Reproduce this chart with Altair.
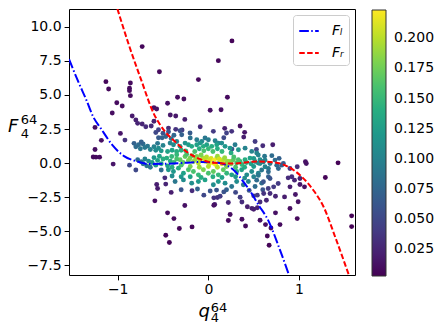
import altair as alt
import pandas as pd

# ---- scatter points: q (x), F (y), colour value (density) ----
q_vals = [
    # outer, top
    -0.73, 0.26, 0.11, -0.54, -1.13, -1.10, -0.86, -0.87, -0.87, -0.86, -0.11, 0.21, -0.34, -0.27,
    -0.45, -1.01, -0.95, -0.60, -0.57, 0.02, 0.14, -1.06, -0.84, -0.42, -0.36, -0.26, -0.80,
    # upper ring
    -0.78, -0.73, -0.69, -0.63, -0.60, -1.25, -1.18, -0.97, -0.92, -0.44, -0.36, -0.29, -0.09,
    0.055, 0.18, 0.20, 0.257, 0.35, 0.40, 0.39, 0.17, 0.26, 0.53, 0.60, 0.71, 0.515, -0.58, -0.55,
    -0.51, -0.55, -0.50, -0.47, -0.44, -0.41, -0.38, -0.312, -0.294, -0.202, -0.128, -0.073, -0.037,
    0.0, 0.074, 0.11, -0.20,
    # band 1.0 - 1.6
    -0.422, -0.385, -0.349, -0.312, -0.257, -0.220, -0.184, -0.128, -0.092, -0.055, -0.018, 0.037,
    0.092, 0.147, 0.184, 0.239, 0.294, 0.331, 0.405, 0.478, 0.533,
    # left mid ring
    -0.82, -0.80, -0.77, -0.75, -0.72, -0.70, -0.74, -0.67, -0.64, -0.60, -0.58, -0.55, -0.52, -0.50, -0.56,
    # left near zero
    -1.25, -1.27, -1.24, -1.20, -1.05, -0.87, -0.80, -0.78, -0.74, -0.72, -0.70, -0.68, -0.66, -0.64,
    -0.62, -0.60, -0.58, -0.56, -0.54, -0.52, -0.50, -0.52, -0.48,
    # upper mid
    -0.45, -0.40, -0.35, -0.30, -0.25, -0.15, -0.05, 0.05, 0.15, 0.25, -0.10, 0.00, 0.10,
    # core
    -0.459, -0.404, -0.349, -0.312, -0.257, -0.202, -0.165, -0.128, -0.092, -0.055, -0.018, 0.019,
    0.055, 0.092, 0.129, 0.165, 0.202, 0.239, 0.276, 0.312, 0.349, 0.404, 0.459, 0.515, 0.570,
    -0.42, -0.38, -0.35, -0.28, -0.24, -0.22, -0.18, -0.14, -0.11, -0.08, -0.04, -0.02, 0.01, 0.03,
    0.06, 0.08, 0.10, 0.12, 0.15, 0.18, 0.21, 0.25, 0.28, 0.33, 0.37, 0.42, 0.47, 0.50, 0.55, 0.60,
    # just below core
    -0.45, -0.40, -0.30, -0.20, -0.10, 0.00, 0.10, 0.20, 0.30, 0.40, 0.50,
    # lower band
    -0.441, -0.385, -0.330, -0.275, -0.220, -0.165, -0.110, -0.055, 0.000, 0.055, 0.110, 0.165,
    0.202, 0.257, 0.312, 0.367, 0.423, 0.478, 0.551, -0.40, -0.30, -0.20, -0.08, 0.05, 0.15, 0.30,
    0.40, 0.50,
    # lower -1.2 .. -1.7
    -0.367, -0.275, -0.184, -0.110, -0.037, 0.055, 0.110, 0.184, 0.257, 0.312, 0.386, 0.441, 0.515, 0.588,
    # lower -1.8 .. -3
    -0.30, -0.12, 0.02, 0.20, 0.30, 0.45, 0.50, 0.35, -0.05, 0.60, 0.09, 0.17, 0.06, 0.10, 0.13, 0.07,
    0.22, 0.37, 0.57, 0.54,
    # left lower outer
    -0.57, -0.56, -0.47, -0.59, -0.41, -0.26, -0.18, -0.45, -0.38, -0.32, -0.18, -0.47, -0.43,
    # lower middle / right outer
    0.06, 0.24, 0.22, 0.37, 0.41, 0.43, 0.48, 0.50, 0.54, 0.57, 0.63, 0.69, 0.74, 0.79, 0.90, 0.98,
    0.65, 0.67, 1.58, 1.58,
    # right outer
    0.61, 0.68, 0.66, 0.72, 0.77, 0.84, 0.74, 0.96, 0.99, 0.64, 0.90, 1.01, 1.06, 0.88, 0.92, 0.95,
    1.01, 1.29, 0.90, 0.98, 1.07, 1.08, 1.43,
    # right teal
    0.57, 0.607, 0.625, 0.68, 0.662, 0.662, 0.625, 0.735, 0.754, 0.772, 0.809, 0.827, 0.588, 0.551,
    0.662, 0.607, 0.68, 0.533, 0.70, 0.78, 0.62, 0.55,
]
f_vals = [
    8.55, 8.97, 7.52, 6.71, 5.98, 5.44, 5.88, 5.49, 5.32, 4.95, 6.13, 4.83, 4.83, 4.71,
    4.39, 4.43, 4.19, 4.07, 3.97, 3.88, 3.92, 3.68, 3.46, 3.53, 3.46, 3.21, 3.16,
    2.92, 2.87, 2.67, 2.72, 3.07, 2.62, 1.67, 2.18, 1.69, 2.57, 2.48, 2.43, 2.67,
    2.33, 2.55, 2.21, 2.33, 2.72, 2.26, 1.91, 1.86, 1.03, 1.00, 1.27, 1.35, 1.59, 2.25, 1.86,
    1.86, 2.45, 2.20, 1.95, 2.30, 1.80, 2.05, 2.38, 2.08, 2.21, 1.72, 1.59, 1.84,
    1.72, 1.64, 1.47, 1.85,
    1.47, 1.35, 1.59, 1.23, 1.47, 1.35, 1.23, 1.35, 1.47, 1.23, 1.35, 1.23,
    1.35, 1.47, 1.23, 1.10, 1.35, 0.98, 1.10, 0.86, 0.74,
    1.45, 1.20, 1.35, 1.05, 1.40, 1.15, 1.55, 1.25, 1.00, 1.20, 0.95, 1.10, 0.90, 1.30, 1.45,
    1.00, 0.45, 0.44, 0.44, -0.07, -0.15, -0.51, 0.25, 0.10, -0.05, 0.30, -0.20, 0.15, -0.30,
    0.05, 0.40, -0.15, 0.20, 0.50, -0.05, 0.30, -0.51, -1.08,
    0.85, 0.95, 0.85, 0.95, 0.90, 0.85, 0.90, 0.85, 0.85, 0.75, 1.05, 1.05, 1.05,
    0.37, 0.49, 0.61, 0.25, 0.49, 0.37, 0.12, 0.49, 0.25, 0.37, 0.12, 0.25,
    0.00, 0.37, 0.12, 0.25, 0.00, 0.12, 0.25, 0.00, 0.12, 0.25, 0.37, 0.12, 0.25,
    0.15, 0.05, 0.30, 0.05, 0.65, 0.20, 0.55, 0.30, 0.00, 0.60, 0.15, 0.45, -0.05, 0.35,
    0.20, -0.10, 0.50, 0.30, -0.05, 0.40, 0.15, -0.05, 0.45, 0.25, -0.10, 0.05, -0.05, 0.35, 0.00, 0.10,
    -0.20, -0.30, -0.15, -0.25, -0.30, -0.25, -0.30, -0.25, -0.30, -0.30, -0.25,
    -0.49, -0.61, -0.37, -0.74, -0.49, -0.61, -0.86, -0.49, -0.74, -0.61, -0.86, -0.49,
    -0.74, -0.86, -0.61, -0.49, -0.86, -0.61, -0.74, -0.95, -1.00, -1.00, -1.05, -1.00, -1.05, -1.00,
    -1.10, -1.00,
    -1.35, -1.23, -1.47, -1.35, -1.23, -1.59, -1.35, -1.47, -1.72, -1.35, -1.59, -1.35, -1.72, -1.47,
    -1.95, -1.90, -2.05, -1.95, -2.15, -2.00, -2.40, -2.50, -2.35, -1.95, -1.98, -2.11, -2.55, -2.52, -2.43, -3.04,
    -2.89, -2.85, -2.85, -2.35,
    -1.57, -1.86, -1.54, -2.77, -2.15, -3.11, -2.03, -3.65, -4.07, -4.80, -4.68, -5.29, -5.83,
    -3.09, -3.77, -4.21, -4.12, -4.61, -3.20, -3.32, -3.38, -3.28, -4.19, -4.51, -4.76, -3.65, -4.51, -3.33, -4.07,
    -5.35, -6.03, -3.87, -4.66,
    -2.23, -2.23, -1.86, -1.74, -1.49, -2.48, -2.43, -2.30, -2.84, -2.72, -1.74, -1.57, -1.74, -1.08, -1.00, -1.25,
    -1.13, -1.05, -0.39, -0.27, 0.10, -0.03, 0.02,
    -0.03, 0.10, 0.22, -0.03, -0.39, -0.64, -0.27, 0.22, -0.15, -0.39, -0.15, -0.03, -0.51, -0.90,
    -1.00, -1.37, -1.13, -1.25, 0.55, 0.35, 0.50, 0.60,
]
dens_vals = [
    0.006, 0.005, 0.006, 0.007, 0.006, 0.007, 0.008, 0.008, 0.008, 0.009, 0.007, 0.008, 0.010, 0.010,
    0.012, 0.009, 0.010, 0.012, 0.013, 0.012, 0.011, 0.010, 0.018, 0.016, 0.016, 0.020, 0.022,
    0.025, 0.025, 0.030, 0.028, 0.022, 0.010, 0.012, 0.015, 0.035, 0.030, 0.035, 0.040, 0.030,
    0.040, 0.020, 0.045, 0.035, 0.012, 0.015, 0.020, 0.050, 0.060, 0.045, 0.030, 0.020, 0.040, 0.050, 0.065,
    0.070, 0.045, 0.060, 0.075, 0.060, 0.085, 0.075, 0.055, 0.070, 0.065, 0.095, 0.105, 0.090,
    0.095, 0.100, 0.105, 0.085,
    0.100, 0.110, 0.100, 0.125, 0.115, 0.125, 0.135, 0.130, 0.120, 0.140, 0.130, 0.140,
    0.130, 0.110, 0.120, 0.120, 0.095, 0.120, 0.100, 0.100, 0.100,
    0.070, 0.080, 0.080, 0.090, 0.080, 0.090, 0.070, 0.090, 0.100, 0.100, 0.110, 0.110, 0.120, 0.100, 0.090,
    0.010, 0.008, 0.008, 0.009, 0.015, 0.050, 0.050, 0.080, 0.090, 0.090, 0.100, 0.090, 0.110, 0.090,
    0.120, 0.120, 0.120, 0.130, 0.130, 0.140, 0.140, 0.080, 0.030,
    0.130, 0.130, 0.140, 0.140, 0.150, 0.160, 0.160, 0.160, 0.150, 0.140, 0.140, 0.150, 0.140,
    0.140, 0.150, 0.150, 0.170, 0.170, 0.180, 0.190, 0.180, 0.200, 0.200, 0.210, 0.210,
    0.220, 0.210, 0.215, 0.200, 0.195, 0.185, 0.170, 0.160, 0.150, 0.140, 0.130, 0.120, 0.110,
    0.140, 0.150, 0.160, 0.170, 0.160, 0.180, 0.170, 0.190, 0.200, 0.180, 0.210, 0.200, 0.220, 0.210,
    0.222, 0.220, 0.190, 0.210, 0.210, 0.190, 0.190, 0.180, 0.160, 0.160, 0.150, 0.140, 0.130, 0.120, 0.110, 0.100,
    0.130, 0.140, 0.160, 0.180, 0.190, 0.200, 0.200, 0.180, 0.160, 0.140, 0.120,
    0.120, 0.120, 0.140, 0.130, 0.160, 0.160, 0.150, 0.180, 0.160, 0.170, 0.150, 0.170,
    0.150, 0.130, 0.140, 0.130, 0.110, 0.110, 0.100, 0.110, 0.120, 0.130, 0.140, 0.140, 0.130, 0.120,
    0.110, 0.100,
    0.090, 0.110, 0.110, 0.120, 0.130, 0.110, 0.120, 0.110, 0.090, 0.110, 0.090, 0.100, 0.080, 0.080,
    0.060, 0.070, 0.060, 0.070, 0.050, 0.060, 0.040, 0.040, 0.050, 0.060, 0.060, 0.060, 0.035, 0.035, 0.040, 0.020,
    0.025, 0.030, 0.030, 0.040,
    0.020, 0.018, 0.025, 0.010, 0.020, 0.012, 0.030, 0.008, 0.008, 0.006, 0.006, 0.005, 0.005,
    0.012, 0.010, 0.009, 0.010, 0.008, 0.020, 0.020, 0.020, 0.022, 0.012, 0.010, 0.008, 0.012, 0.008, 0.010, 0.007,
    0.006, 0.005, 0.004, 0.004,
    0.035, 0.030, 0.040, 0.040, 0.040, 0.020, 0.025, 0.015, 0.012, 0.025, 0.020, 0.015, 0.012, 0.030, 0.030, 0.025,
    0.020, 0.005, 0.040, 0.030, 0.012, 0.012, 0.004,
    0.110, 0.100, 0.100, 0.090, 0.090, 0.080, 0.100, 0.080, 0.080, 0.075, 0.070, 0.065, 0.090, 0.090,
    0.070, 0.060, 0.060, 0.080, 0.080, 0.070, 0.090, 0.100,
]

# ---- fitted curves ----
fl_q = [-1.537, -1.43, -1.35, -1.27, -1.186, -1.058, -0.93, -0.80, -0.654, -0.48, -0.31, -0.09,
        0.07, 0.20, 0.30, 0.39, 0.478, 0.55, 0.66, 0.78, 0.89]
fl_f = [7.63, 5.90, 4.70, 3.40, 2.55, 1.32, 0.51, 0.15, -0.07, -0.05, 0.00, 0.08,
        0.05, -0.15, -0.64, -1.40, -2.23, -3.04, -4.20, -6.20, -8.23]
fr_q = [-1.003, -0.874, -0.745, -0.60, -0.53, -0.47, -0.386, -0.238, -0.09, 0.055, 0.276, 0.53,
        0.735, 0.88, 1.03, 1.158, 1.27, 1.405, 1.551]
fr_f = [11.32, 8.62, 6.18, 3.60, 2.79, 2.25, 1.69, 0.83, 0.29, 0.03, -0.03, 0.12,
        0.05, -0.27, -1.00, -1.99, -3.20, -5.54, -8.24]
curve_names = ["Fₗ", "Fᵣ"]

x_ticks = [-1, 0, 1]
y_ticks = [-7.5, -5.0, -2.5, 0.0, 2.5, 5.0, 7.5, 10.0]
cbar_ticks = [0.025, 0.050, 0.075, 0.100, 0.125, 0.150, 0.175, 0.200]

# axis titles, written as base symbol + superscript + subscript
x_title = ["q", "64", "4"]
y_title = ["F", "64", "4"]

pts = pd.DataFrame({"q": q_vals, "F": f_vals, "d": dens_vals})
lines = pd.DataFrame({
    "q": fl_q + fr_q,
    "F": fl_f + fr_f,
    "curve": [curve_names[0]] * len(fl_q) + [curve_names[1]] * len(fr_q),
})

xscale = alt.Scale(domain=[-1.537, 1.617], nice=False, zero=False)
yscale = alt.Scale(domain=[-8.21, 11.31], nice=False, zero=False)

xaxis = alt.Axis(values=x_ticks, format="d", title=None, labelOverlap=False)
yaxis = alt.Axis(values=y_ticks, format=".1f", title=None, labelOverlap=False)

scatter = alt.Chart(pts).mark_circle(size=24, opacity=1).encode(
    x=alt.X("q:Q", scale=xscale, axis=xaxis),
    y=alt.Y("F:Q", scale=yscale, axis=yaxis),
    color=alt.Color(
        "d:Q",
        scale=alt.Scale(scheme="viridis", domain=[0.0026, 0.2235]),
        legend=alt.Legend(
            orient="none", legendX=303, legendY=1, direction="vertical", title=None,
            gradientLength=266, gradientThickness=14, values=cbar_ticks, format=".3f",
            labelFontSize=14, labelOffset=8, gradientStrokeColor="#333333",
            gradientStrokeWidth=1, padding=0, labelOverlap=False,
        ),
    ),
)

line_legend = alt.Legend(
    title=None, orient="top-right", offset=6, fillColor="rgba(255,255,255,0.8)",
    strokeColor="#cccccc", cornerRadius=3, padding=5, symbolType="stroke",
    symbolSize=380, symbolStrokeWidth=2, labelFontSize=14, labelFontStyle="italic",
    rowPadding=4, labelOffset=12,
)

curves = alt.Chart(lines).mark_line(strokeWidth=2, clip=True, interpolate="monotone").encode(
    x=alt.X("q:Q", scale=xscale, axis=xaxis),
    y=alt.Y("F:Q", scale=yscale, axis=yaxis),
    stroke=alt.Stroke("curve:N", scale=alt.Scale(domain=curve_names, range=["#0000ff", "#ff0000"]),
                      legend=line_legend),
    strokeDash=alt.StrokeDash("curve:N",
                              scale=alt.Scale(domain=curve_names,
                                              range=[[9.6, 2.4, 1.5, 2.4], [5.5, 2.4]]),
                              legend=line_legend),
)


def title_part(text, px, py, size, italic):
    return alt.Chart(pd.DataFrame({"t": [text]})).mark_text(
        align="left", baseline="alphabetic", font="DejaVu Sans", fontSize=size,
        fontStyle="italic" if italic else "normal", color="black",
    ).encode(text="t:N", x=alt.value(px), y=alt.value(py))


title_layers = [
    title_part(x_title[0], 129.5, 308, 18, True),
    title_part(x_title[1], 141.7, 302.8, 13, False),
    title_part(x_title[2], 141.7, 313, 13, False),
    title_part(y_title[0], -61, 122.7, 18, True),
    title_part(y_title[1], -48.3, 114.5, 13, False),
    title_part(y_title[2], -48.3, 129, 13, False),
]

chart = alt.layer(scatter, curves, *title_layers).properties(
    width=286, height=266,
    autosize=alt.AutoSizeParams(type="none"),
    padding={"left": 61, "top": 1, "right": 80, "bottom": 53},
).configure_view(
    stroke="black", strokeWidth=1
).configure_axis(
    domain=False, grid=False, tickColor="black", tickSize=4.9, tickWidth=1,
    labelFontSize=14, labelFont="DejaVu Sans", labelColor="black", labelPadding=3,
    labelOverlap=False,
).configure_legend(
    labelFont="DejaVu Sans", labelColor="black",
)

chart.save("out.html", embed_options={"renderer": "svg", "actions": False})
